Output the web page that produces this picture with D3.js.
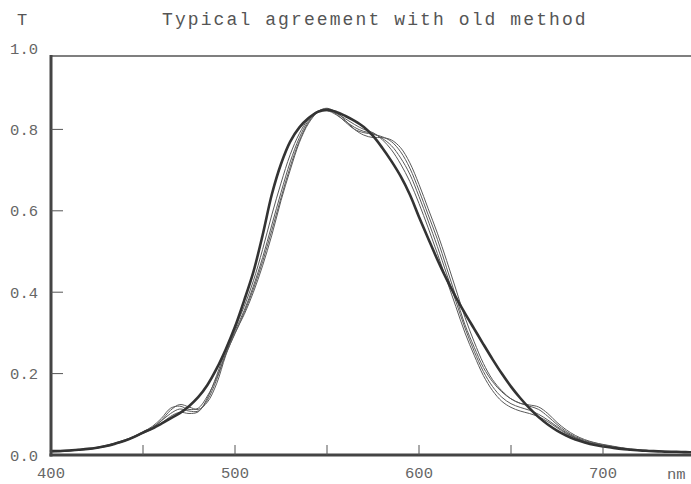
<!DOCTYPE html>
<html>
<head>
<meta charset="utf-8">
<script src="https://cdn.jsdelivr.net/npm/d3@7"></script>
<style>
  body { margin: 0; background: #fff; }
  svg { display: block; }
</style>
</head>
<body>
<div id="chart"></div>
<script>
var width = 691;
var height = 484;
var axisLeft = 51;
var axisBottom = 455;
var frameTop = 56;

// wavelength grid, nm
var wavelengths = [400,405,410,415,420,425,430,435,440,445,450,455,460,465,470,475,480,485,490,495,
  500,505,510,515,520,525,530,535,540,545,550,555,560,565,570,575,580,585,590,595,
  600,605,610,615,620,625,630,635,640,645,650,655,660,665,670,675,680,685,690,695,
  700,705,710,715,720,725,730,735,740,745,750];

// old method (heavy line)
var oldMethod = [.010,.010,.011,.013,.015,.018,.022,.028,.035,.044,.055,.065,.077,.090,.103,.120,.142,.172,.212,.260,
  .315,.380,.450,.540,.640,.715,.770,.805,.828,.843,.848,.843,.833,.821,.806,.784,.755,.722,.685,.640,
  .585,.532,.480,.432,.388,.348,.310,.272,.235,.200,.168,.140,.115,.093,.075,.060,.048,.038,.031,.025,
  .021,.018,.015,.013,.011,.010,.009,.008,.008,.007,.007];

// new method runs (thin lines)
var run1 = [.008,.009,.010,.012,.014,.017,.022,.028,.035,.044,.054,.066,.085,.110,.124,.118,.112,.130,.175,.245,
  .300,.345,.400,.465,.540,.625,.700,.768,.815,.842,.850,.838,.818,.800,.792,.788,.782,.770,.745,.705,
  .650,.590,.530,.460,.390,.320,.265,.215,.180,.155,.138,.127,.120,.112,.095,.075,.058,.045,.036,.030,
  .025,.021,.017,.014,.012,.011,.010,.009,.008,.008,.007];
var run2 = [.009,.010,.011,.013,.015,.018,.023,.029,.036,.045,.056,.068,.084,.102,.113,.108,.108,.135,.185,.250,
  .305,.355,.415,.485,.565,.645,.720,.780,.822,.843,.846,.836,.820,.805,.795,.790,.778,.760,.730,.690,
  .635,.575,.512,.445,.378,.312,.255,.205,.168,.142,.126,.117,.110,.100,.086,.070,.055,.043,.034,.028,
  .023,.019,.016,.013,.011,.010,.009,.008,.008,.007,.007];
var run3 = [.007,.008,.010,.012,.014,.017,.021,.027,.034,.043,.053,.064,.078,.095,.105,.102,.106,.140,.195,.258,
  .312,.365,.428,.505,.590,.668,.738,.790,.826,.845,.848,.840,.826,.812,.800,.792,.775,.750,.715,.672,
  .618,.558,.495,.430,.365,.300,.245,.195,.158,.132,.117,.108,.102,.094,.082,.067,.053,.042,.033,.027,
  .022,.018,.015,.013,.011,.010,.009,.008,.007,.007,.006];
var run4 = [.010,.011,.012,.014,.016,.019,.024,.030,.037,.046,.057,.070,.090,.115,.120,.112,.115,.145,.190,.248,
  .298,.350,.408,.475,.552,.632,.708,.772,.818,.844,.852,.842,.822,.800,.786,.780,.780,.774,.755,.718,
  .665,.605,.545,.478,.408,.338,.278,.225,.185,.158,.138,.127,.123,.118,.102,.080,.062,.048,.038,.031,
  .026,.022,.018,.015,.013,.011,.010,.009,.008,.008,.007];

var xTicks = [450,500,550,600,650,700];
var xLabels = [400,500,600,700];
var yTicks = [0.2,0.4,0.6,0.8];
var yLabels = [0.0,0.2,0.4,0.6,0.8,1.0];

var x = d3.scaleLinear().domain([400,700]).range([axisLeft,603]);
var y = d3.scaleLinear().domain([0,1]).range([axisBottom,48]);

var svg = d3.select("#chart").append("svg")
  .attr("width",width)
  .attr("height",height);

var fontMono = "'Liberation Mono','DejaVu Sans Mono',monospace";

function drawCurve(values,strokeWidth,color)
{
  var line = d3.line()
    .x(function(d,i){ return x(wavelengths[i]); })
    .y(function(d){ return y(d); })
    .curve(d3.curveCatmullRom.alpha(0.5));
  svg.append("path")
    .datum(values)
    .attr("d",line)
    .attr("fill","none")
    .attr("stroke",color)
    .attr("stroke-width",strokeWidth)
    .attr("stroke-linejoin","round")
    .attr("stroke-linecap","round");
}

// curves
drawCurve(run1,1,"#5a5a5a");
drawCurve(run2,1,"#5a5a5a");
drawCurve(run3,1,"#5a5a5a");
drawCurve(run4,1,"#5a5a5a");
drawCurve(oldMethod,2.6,"#333");

// frame
svg.append("line")
  .attr("x1",axisLeft).attr("x2",width)
  .attr("y1",frameTop).attr("y2",frameTop)
  .attr("stroke","#555").attr("stroke-width",1.6);
svg.append("line")
  .attr("x1",axisLeft).attr("x2",axisLeft)
  .attr("y1",frameTop-1).attr("y2",axisBottom+1.5)
  .attr("stroke","#444").attr("stroke-width",3);
svg.append("line")
  .attr("x1",axisLeft-1.5).attr("x2",width)
  .attr("y1",axisBottom).attr("y2",axisBottom)
  .attr("stroke","#444").attr("stroke-width",3);

// ticks
svg.selectAll(".xtick").data(xTicks).enter().append("line")
  .attr("class","xtick")
  .attr("x1",function(d){ return x(d); }).attr("x2",function(d){ return x(d); })
  .attr("y1",axisBottom).attr("y2",axisBottom-10)
  .attr("stroke","#555").attr("stroke-width",1);
svg.selectAll(".ytick").data(yTicks).enter().append("line")
  .attr("class","ytick")
  .attr("x1",axisLeft).attr("x2",axisLeft+12)
  .attr("y1",function(d){ return y(d); }).attr("y2",function(d){ return y(d); })
  .attr("stroke","#555").attr("stroke-width",1);

// tick labels
svg.selectAll(".ylab").data(yLabels).enter().append("text")
  .attr("class","ylab")
  .attr("x",38)
  .attr("y",function(d){ return y(d)+5.5; })
  .attr("text-anchor","end")
  .attr("font-family",fontMono)
  .attr("font-size",15.5)
  .attr("fill","#666")
  .text(function(d){ return d.toFixed(1); });

svg.selectAll(".xlab").data(xLabels).enter().append("text")
  .attr("class","xlab")
  .attr("x",function(d){ return x(d); })
  .attr("y",478)
  .attr("text-anchor","middle")
  .attr("font-family",fontMono)
  .attr("font-size",15.5)
  .attr("fill","#666")
  .text(function(d){ return d; });

svg.append("text")
  .attr("x",667).attr("y",479)
  .attr("font-family",fontMono)
  .attr("font-size",15.5)
  .attr("fill","#666")
  .text("nm");

// titles
svg.append("text")
  .attr("x",17).attr("y",25)
  .attr("font-family",fontMono)
  .attr("font-size",17)
  .attr("fill","#555")
  .text("T");

svg.append("text")
  .attr("x",162).attr("y",25)
  .attr("font-family",fontMono)
  .attr("font-size",18)
  .attr("letter-spacing",2.1)
  .attr("fill","#555")
  .text("Typical agreement with old method");
</script>
</body>
</html>
